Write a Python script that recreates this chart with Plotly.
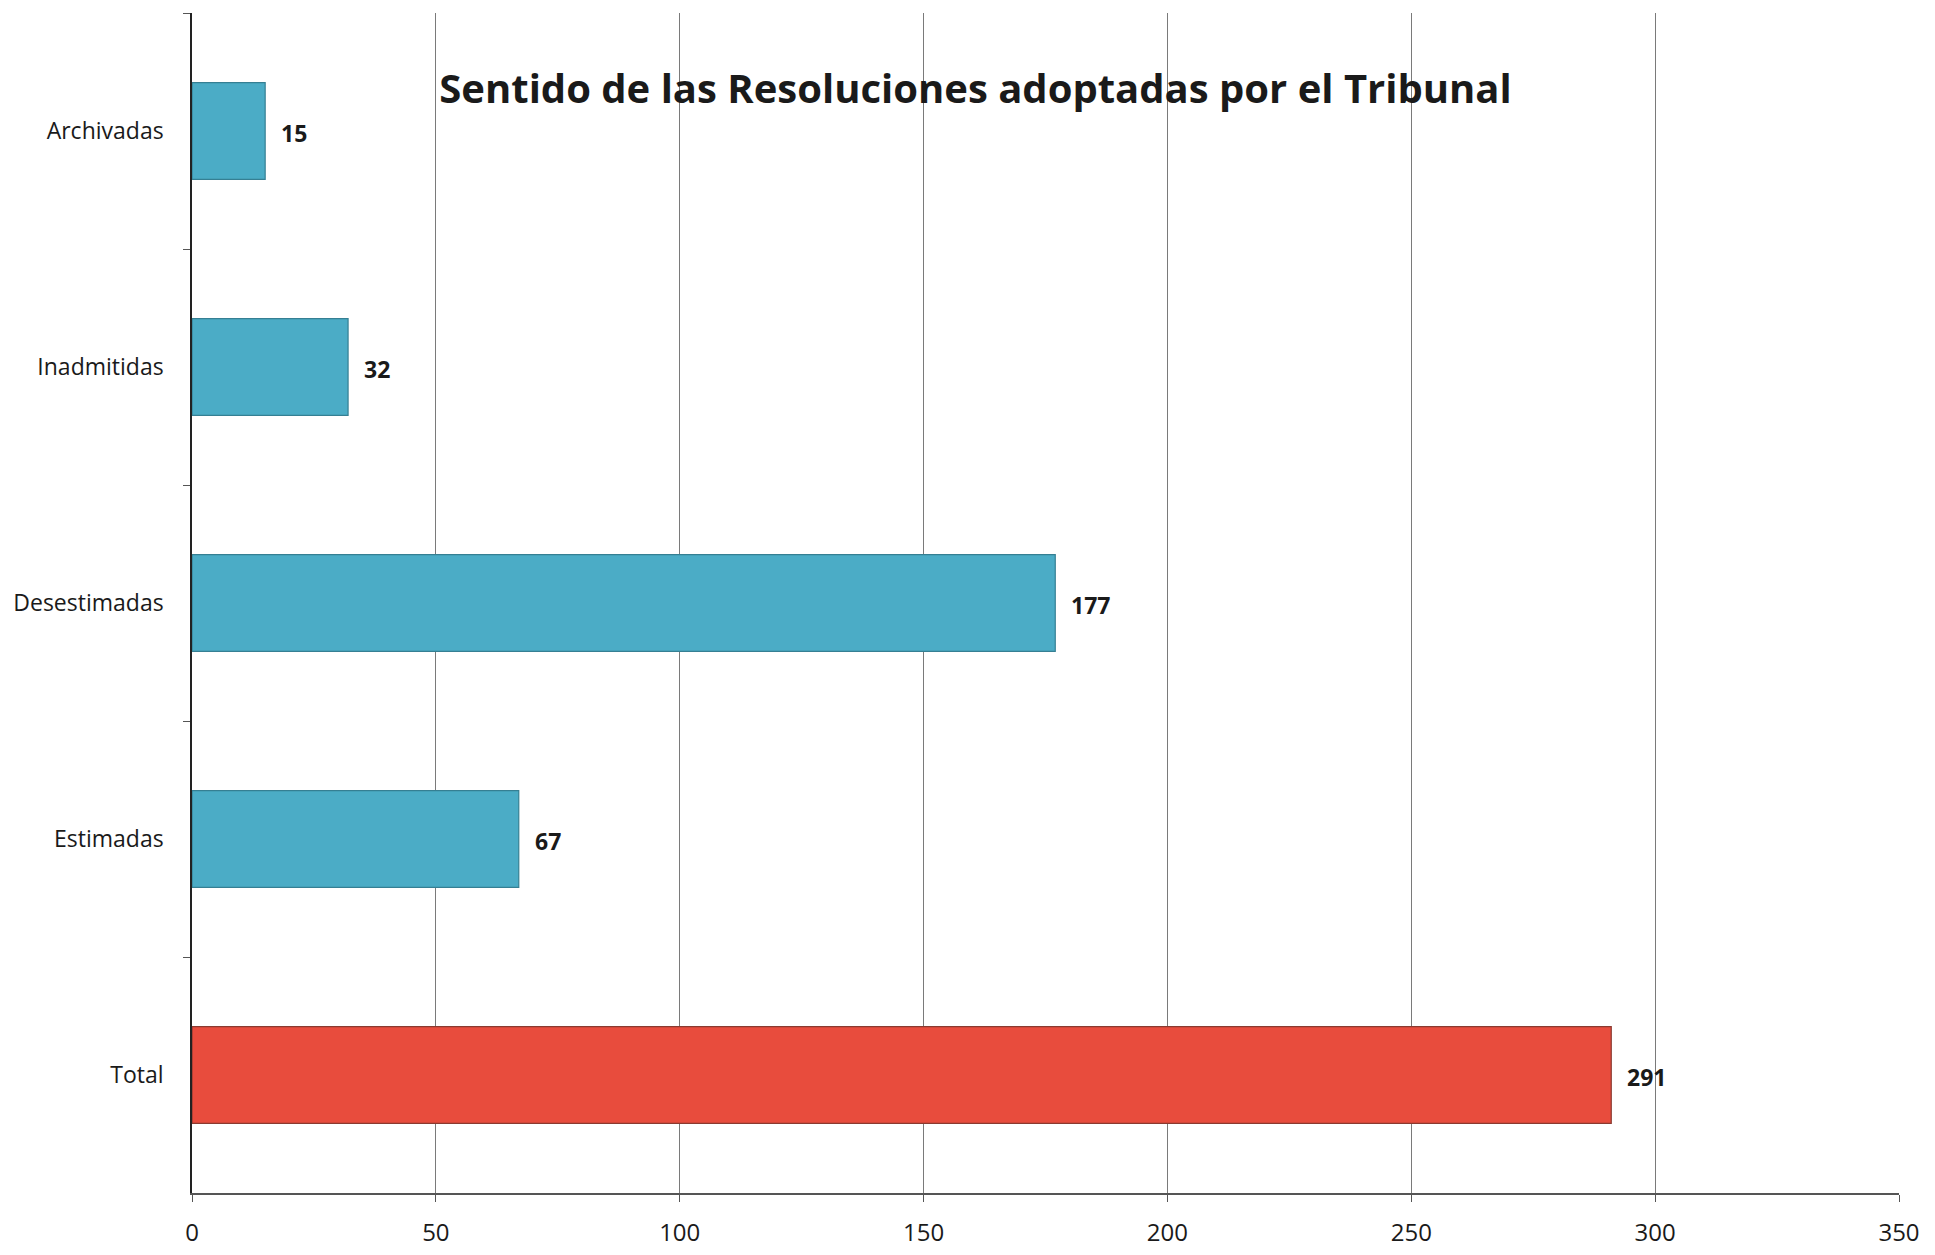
import plotly.graph_objects as go

# Data (top to bottom)
categories = ["Archivadas", "Inadmitidas", "Desestimadas", "Estimadas", "Total"]
values = [15, 32, 177, 67, 291]
bar_colors = ["#4BACC6", "#4BACC6", "#4BACC6", "#4BACC6", "#E84C3D"]
line_colors = ["#357F93", "#357F93", "#357F93", "#357F93", "#8A3A30"]
x_ticks = [0, 50, 100, 150, 200, 250, 300, 350]

FONT = "Open Sans, Noto Sans, sans-serif"

fig = go.Figure(
    go.Bar(
        x=values,
        y=categories,
        orientation="h",
        marker=dict(color=bar_colors, line=dict(color=line_colors, width=1.2)),
        showlegend=False,
    )
)

# value labels to the right of each bar
for cat, val in zip(categories, values):
    fig.add_annotation(
        x=val, y=cat, xref="x", yref="y",
        text=f"<b>{val}</b>", showarrow=False,
        xanchor="left", xshift=14, yshift=-2,
        font=dict(family=FONT, size=23, color="#1a1a1a"),
    )

fig.update_layout(
    width=1935,
    height=1255,
    margin=dict(l=176, r=44, t=5, b=70),
    paper_bgcolor="white",
    plot_bgcolor="white",
    bargap=0.59,
    font=dict(family=FONT, size=23, color="#1a1a1a"),
    title=dict(
        text="<b>Sentido de las Resoluciones adoptadas por el Tribunal</b>",
        xref="container", yref="container",
        x=0.5, y=1 - 81 / 1255,
        xanchor="center", yanchor="middle",
        font=dict(family=FONT, size=40, color="#1a1a1a"),
    ),
)

fig.update_xaxes(
    range=[0, 350],
    tickvals=x_ticks,
    showgrid=True, gridcolor="#7a7a7a", gridwidth=1,
    showline=True, linecolor="#555555", linewidth=1.5,
    ticks="outside", ticklen=7, tickcolor="#555555",
    ticklabelstandoff=10,
    zeroline=False,
    tickfont=dict(family=FONT, size=24),
)

fig.update_yaxes(
    autorange="reversed",
    showgrid=False,
    showline=True, linecolor="#222222", linewidth=1.5,
    ticks="outside", ticklen=7, tickcolor="#555555",
    tickson="boundaries",
    ticklabelstandoff=22,
    tickfont=dict(family=FONT, size=23),
)

fig.write_html("out.html")
